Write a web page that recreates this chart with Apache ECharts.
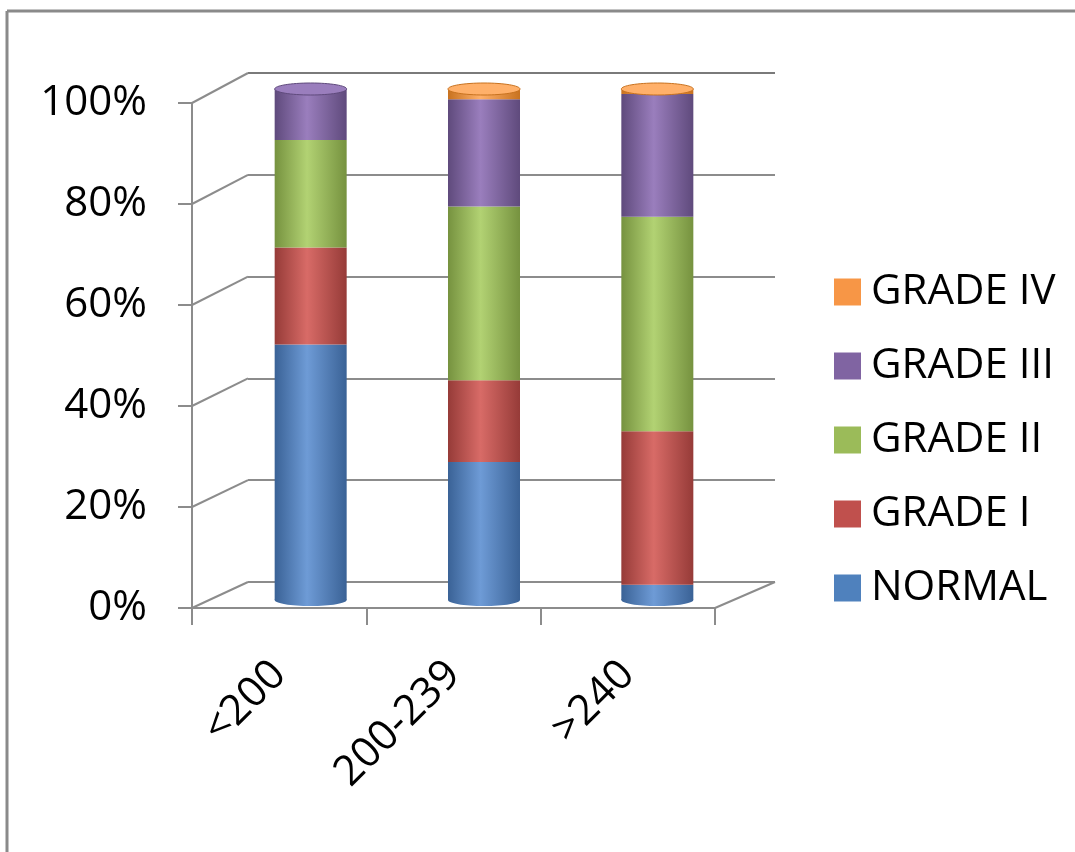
<!DOCTYPE html>
<html style="height: 100%">
<head>
    <meta charset="UTF-8">
    <script src="https://cdn.jsdelivr.net/npm/echarts@6/dist/echarts.min.js"></script>
    <style type="text/css">
        body { margin: 0; background: #ffffff; }
    </style>
</head>
<body>
    <div id="paint" style="width: 1075px; height: 852px;"></div>
<script>
    // data (percent of each group)
    var categories = ['<200', '200-239', '>240'];
    var normal   = [50, 27, 3];
    var grade1   = [19, 16, 30];
    var grade2   = [21, 34, 42];
    var grade3   = [10, 21, 24];
    var grade4   = [0, 2, 1];
    var seriesNames = ['NORMAL', 'GRADE I', 'GRADE II', 'GRADE III', 'GRADE IV'];
    var yTicks = [0, 20, 40, 60, 80, 100];

    var colors = ['#4F81BD', '#C0504D', '#9BBB59', '#8064A2', '#F79646'];
    var darks  = ['#3A6296', '#963B38', '#76923F', '#5F4A7C', '#C8721F'];
    var lights = ['#6E9BD6', '#D86B67', '#B2D273', '#9A7EBD', '#FFB06A'];
    var FONT = '"Open Sans", "Liberation Sans", sans-serif';
    var GRID_LINE = '#8C8C8C';

    var FRONT = {left: 192, top: 103, width: 523, height: 505};
    var BACK  = {left: 248, top: 73, width: 527, height: 509};
    var BARS  = {left: 224, top: 89, width: 520, height: 511};

    var allValues = [normal, grade1, grade2, grade3, grade4];

    function cylGradient(i) {
        return new echarts.graphic.LinearGradient(0, 0, 1, 0, [
            {offset: 0, color: darks[i]},
            {offset: 0.45, color: lights[i]},
            {offset: 1, color: darks[i]}
        ]);
    }

    var barSeries = allValues.map(function (vals, i) {
        return {
            name: seriesNames[i],
            type: 'bar',
            stack: 'total',
            xAxisIndex: 2,
            yAxisIndex: 2,
            barWidth: 72,
            z: 2,
            data: vals,
            itemStyle: {color: cylGradient(i)}
        };
    });

    // top and bottom ellipses of each cylinder
    var capData = categories.map(function (c, k) {
        var total = 0, top = 0, bottom = -1;
        allValues.forEach(function (vals, i) {
            total += vals[k];
            if (vals[k] > 0) { top = i; if (bottom < 0) bottom = i; }
        });
        return [k, total, top, bottom];
    });

    var chart = echarts.init(document.getElementById('paint'));
    chart.setOption({
        backgroundColor: '#ffffff',
        animation: false,
        legend: {
            orient: 'vertical',
            left: 829,
            top: 266,
            icon: 'rect',
            itemWidth: 27,
            itemHeight: 27,
            itemGap: 32,
            data: seriesNames.slice().reverse().map(function (n, j) {
                return {name: n, itemStyle: {color: colors[seriesNames.length - 1 - j]}};
            }),
            textStyle: {fontSize: 42, fontFamily: FONT, color: '#000', padding: [0, 0, 0, 5]}
        },
        grid: [
            {left: FRONT.left, top: FRONT.top, width: FRONT.width, height: FRONT.height},
            {left: BACK.left, top: BACK.top, width: BACK.width, height: BACK.height},
            {left: BARS.left, top: BARS.top, width: BARS.width, height: BARS.height}
        ],
        xAxis: [
            {
                gridIndex: 0, type: 'category', data: categories,
                axisLine: {lineStyle: {color: GRID_LINE, width: 2}},
                axisTick: {show: true, length: 17, lineStyle: {color: GRID_LINE, width: 2}},
                axisLabel: {rotate: 45, margin: 60, fontSize: 42, fontFamily: FONT, color: '#000'}
            },
            {
                gridIndex: 1, type: 'category', data: categories,
                axisLine: {show: false}, axisTick: {show: false}, axisLabel: {show: false}
            },
            {
                gridIndex: 2, type: 'category', data: categories, show: false
            }
        ],
        yAxis: [
            {
                gridIndex: 0, type: 'value', min: 0, max: 100, interval: 20,
                axisLine: {show: true, lineStyle: {color: GRID_LINE, width: 2}},
                axisTick: {show: true, length: 14, lineStyle: {color: GRID_LINE, width: 2}},
                splitLine: {show: false},
                axisLabel: {formatter: '{value}%', margin: 45, fontSize: 42, fontFamily: FONT, color: '#000'}
            },
            {
                gridIndex: 1, type: 'value', min: 0, max: 100, interval: 20,
                axisLine: {show: false}, axisTick: {show: false}, axisLabel: {show: false},
                splitLine: {show: true, lineStyle: {color: [GRID_LINE, GRID_LINE, GRID_LINE, GRID_LINE, GRID_LINE, '#7a7a7a'], width: 2}}
            },
            {
                gridIndex: 2, type: 'value', min: 0, max: 100, show: false
            }
        ],
        series: barSeries.concat([
            {
                name: 'bottoms', type: 'custom', xAxisIndex: 2, yAxisIndex: 2, z: 1,
                data: capData,
                renderItem: function (params, api) {
                    var p = api.coord([api.value(0), 0]);
                    var b = api.value(3);
                    return {type: 'ellipse', shape: {cx: p[0], cy: p[1], rx: 36, ry: 6},
                        style: {fill: cylGradient(b)}};
                }
            },
            {
                name: 'tops', type: 'custom', xAxisIndex: 2, yAxisIndex: 2, z: 3,
                data: capData,
                renderItem: function (params, api) {
                    var p = api.coord([api.value(0), api.value(1)]);
                    var t = api.value(2);
                    return {type: 'ellipse', shape: {cx: p[0], cy: p[1], rx: 36, ry: 6},
                        style: {fill: lights[t], stroke: darks[t], lineWidth: 1}};
                }
            }
        ])
    });

    // 3D wall connectors from the front axis to the back wall, plus frame
    var g = [];
    yTicks.forEach(function (v) {
        var yf = chart.convertToPixel({yAxisIndex: 0}, v);
        var yb = chart.convertToPixel({yAxisIndex: 1}, v);
        g.push({type: 'line', shape: {x1: FRONT.left, y1: yf, x2: BACK.left, y2: yb},
            style: {stroke: GRID_LINE, lineWidth: 2}, z: 0});
    });
    var f0 = chart.convertToPixel({yAxisIndex: 0}, 0);
    var b0 = chart.convertToPixel({yAxisIndex: 1}, 0);
    g.push({type: 'line', shape: {x1: FRONT.left + FRONT.width, y1: f0, x2: BACK.left + BACK.width, y2: b0},
        style: {stroke: GRID_LINE, lineWidth: 2}, z: 0});
    g.push({type: 'line', shape: {x1: 7, y1: 11, x2: 1075, y2: 11}, style: {stroke: '#8a8a8a', lineWidth: 3}});
    g.push({type: 'line', shape: {x1: 7, y1: 11, x2: 7, y2: 852}, style: {stroke: '#8a8a8a', lineWidth: 3}});
    chart.setOption({graphic: g});
</script>
</body>
</html>
